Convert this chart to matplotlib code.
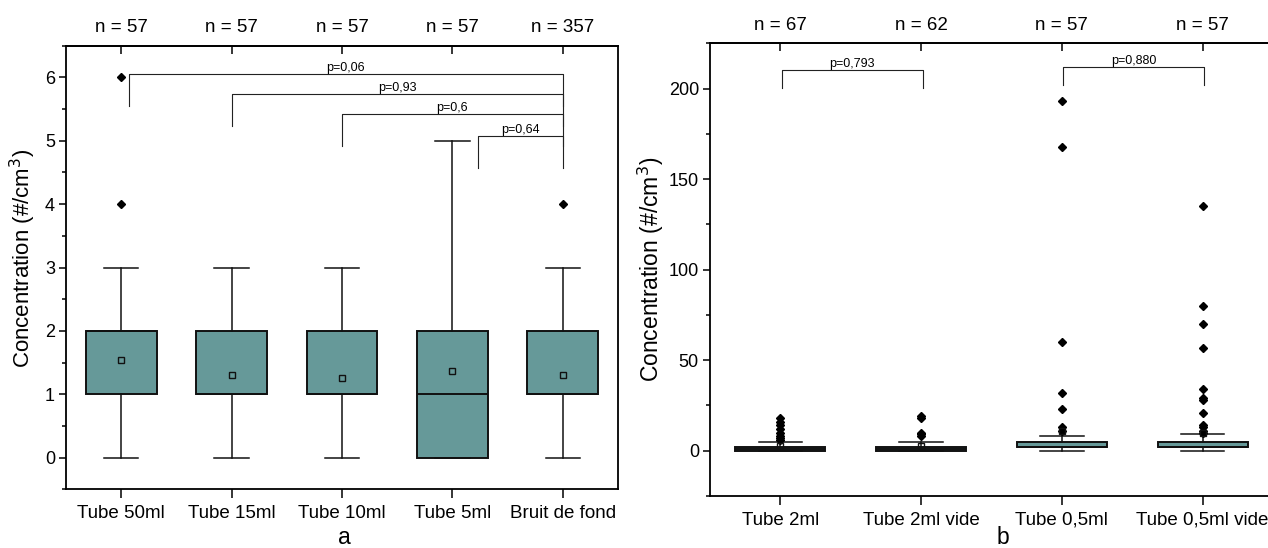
import matplotlib
matplotlib.use("Agg")
import matplotlib.pyplot as plt
from matplotlib.ticker import MultipleLocator

plt.rcParams['font.family'] = ['Liberation Sans', 'DejaVu Sans']

# ---------------- Panel a data ----------------
cats_a = ["Tube 50ml", "Tube 15ml", "Tube 10ml", "Tube 5ml", "Bruit de fond"]
n_a = ["n = 57", "n = 57", "n = 57", "n = 57", "n = 357"]
q1_a = [1, 1, 1, 0, 1]
med_a = [2, 1, 1, 1, 1]
q3_a = [2, 2, 2, 2, 2]
wlo_a = [0, 0, 0, 0, 0]
whi_a = [3, 3, 3, 5, 3]
mean_a = [1.54, 1.30, 1.25, 1.37, 1.31]
fliers_a = [[4, 6], [], [], [], [4]]
brk_a_from = [1.07, 2.0, 3.0, 4.23]
brk_a_to = [5.0, 5.0, 5.0, 5.0]
brk_a_y = [6.05, 5.73, 5.42, 5.07]
brk_a_p = ["p=0,06", "p=0,93", "p=0,6", "p=0,64"]

# ---------------- Panel b data ----------------
cats_b = ["Tube 2ml", "Tube 2ml vide", "Tube 0,5ml", "Tube 0,5ml vide"]
n_b = ["n = 67", "n = 62", "n = 57", "n = 57"]
q1_b = [0, 0, 2, 2]
med_b = [1, 1, 2, 2]
q3_b = [2, 2, 5, 5]
wlo_b = [0, 0, 0, 0]
whi_b = [5, 5, 8, 9]
mean_b = [2.8, 2.6, 11, 10]
fliers_b = [[6, 7, 8, 10, 12, 14, 16, 18],
            [8, 9, 10, 18, 19],
            [11, 13, 23, 32, 60, 168, 193],
            [10, 11, 13, 14, 21, 28, 29, 34, 57, 70, 80, 135]]
brk_b_from = [1.01, 3.01]
brk_b_to = [2.01, 4.01]
brk_b_y = [210.5, 211.7]
brk_b_p = ["p=0,793", "p=0,880"]

BOX_COLOR = "#669999"
W, H = 1268, 548
fig = plt.figure(figsize=(W / 100, H / 100), dpi=100)

ax_a = fig.add_axes([66 / W, 1 - 489.3 / H, 552 / W, (489.3 - 45.7) / H])
ax_b = fig.add_axes([710 / W, 1 - 496 / H, 563 / W, (496 - 43.3) / H])


def make_stats(q1, med, q3, wlo, whi, mean, fliers):
    return [dict(q1=a, med=b, q3=c, whislo=d, whishi=e, mean=f, fliers=g)
            for a, b, c, d, e, f, g in zip(q1, med, q3, wlo, whi, mean, fliers)]


def draw(ax, stats, n, cats, leg, bfrom, bto, by, bp, ylim, major, minor, ylab_size):
    pos = list(range(1, len(stats) + 1))
    ax.bxp(stats, positions=pos, widths=0.64, capwidths=0.31, patch_artist=True,
           showmeans=True, showfliers=True,
           boxprops=dict(facecolor=BOX_COLOR, edgecolor="#111111", linewidth=1.4),
           medianprops=dict(color="#111111", linewidth=1.4),
           whiskerprops=dict(color="#111111", linewidth=1.1),
           capprops=dict(color="#111111", linewidth=1.1),
           meanprops=dict(marker="s", markerfacecolor="none", markeredgecolor="#111111",
                          markersize=4, markeredgewidth=1.0),
           flierprops=dict(marker="D", markerfacecolor="black", markeredgecolor="black",
                           markersize=4.2))
    ax.set_xlim(0.5, len(stats) + 0.5)
    ax.set_ylim(*ylim)
    ax.set_xticks(pos)
    ax.set_xticklabels(cats, fontsize=13.5)
    ax.yaxis.set_major_locator(MultipleLocator(major))
    ax.yaxis.set_minor_locator(MultipleLocator(minor))
    ax.tick_params(axis="y", which="major", direction="out", length=5, width=1.1,
                   labelsize=13, pad=3)
    ax.tick_params(axis="y", which="minor", direction="out", length=3, width=1.1)
    ax.tick_params(axis="x", which="major", direction="out", length=6.5, width=1.1, pad=5)
    for s in ax.spines.values():
        s.set_linewidth(1.3)
    ax.set_ylabel("Concentration (#/cm$^3$)", fontsize=ylab_size)
    # n labels on the top axis
    sec = ax.secondary_xaxis("top")
    sec.set_xticks(pos)
    sec.set_xticklabels(n, fontsize=13.5)
    sec.tick_params(direction="in", length=5.5, width=1.1, pad=7)
    sec.spines["top"].set_linewidth(1.3)
    # brackets
    for x0, x1, y, p in zip(bfrom, bto, by, bp):
        ax.plot([x0, x0, x1, x1], [y - leg, y, y, y - leg], color="#222222", lw=0.8)
        ax.text((x0 + x1) / 2, y, p, ha="center", va="bottom", fontsize=9)


draw(ax_a, make_stats(q1_a, med_a, q3_a, wlo_a, whi_a, mean_a, fliers_a), n_a, cats_a,
     0.5, brk_a_from, brk_a_to, brk_a_y, brk_a_p, (-0.5, 6.5), 1, 0.5, 16)
draw(ax_b, make_stats(q1_b, med_b, q3_b, wlo_b, whi_b, mean_b, fliers_b), n_b, cats_b,
     10, brk_b_from, brk_b_to, brk_b_y, brk_b_p, (-25, 225), 50, 25, 16.5)

ax_a.yaxis.set_label_coords(-0.05, 0.52)
ax_b.yaxis.set_label_coords(-0.078, 0.5)
ax_a.set_xlabel("a", fontsize=16.5)
ax_b.set_xlabel("b", fontsize=16.5)
ax_a.xaxis.set_label_coords(0.504, -0.082)
ax_b.xaxis.set_label_coords(0.52, -0.066)

fig.savefig("out.png", dpi=100)
